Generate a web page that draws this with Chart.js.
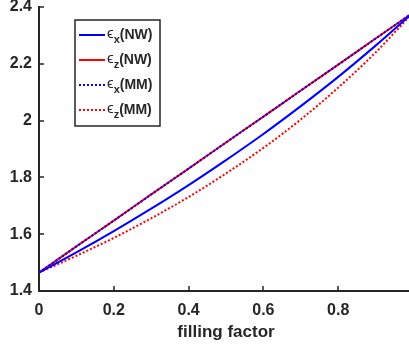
<!DOCTYPE html>
<html>
<head>
<meta charset="utf-8">
<script src="https://cdn.jsdelivr.net/npm/chart.js@4"></script>
<style>
  html, body { margin: 0; padding: 0; background: #fff; overflow: hidden; }
  #wrap { position: absolute; left: 0; top: 0; width: 430px; height: 346px; }
</style>
</head>
<body>
<div id="wrap"><canvas id="myChart" width="430" height="346"></canvas></div>
<script>
  // filling factor and permittivities
  const fill = [0, 0.1, 0.2, 0.3, 0.4, 0.5, 0.6, 0.7, 0.8, 0.9, 1.0]
  const epsXNW = [1.465, 1.536, 1.611, 1.690, 1.773, 1.861, 1.953, 2.051, 2.154, 2.264, 2.380]
  const epsZNW = [1.465, 1.557, 1.648, 1.740, 1.831, 1.923, 2.014, 2.106, 2.197, 2.289, 2.380]
  const epsXMM = [1.465, 1.557, 1.648, 1.740, 1.831, 1.923, 2.014, 2.106, 2.197, 2.289, 2.380]
  const epsZMM = [1.465, 1.524, 1.587, 1.656, 1.731, 1.814, 1.904, 2.004, 2.116, 2.240, 2.380]
  const labels = ['ϵ_x(NW)', 'ϵ_z(NW)', 'ϵ_x(MM)', 'ϵ_z(MM)']
  const xTicks = [0, 0.2, 0.4, 0.6, 0.8, 1]
  const yTicks = [1.4, 1.6, 1.8, 2, 2.2, 2.4]

  const FONT = '"Liberation Sans", Arial, sans-serif'
  const INK = '#262626'

  const pts = (ys) => fill.map((x, i) => ({ x: x, y: ys[i] }))

  // inward tick marks, matlab style
  const innerTicks = {
    id: 'innerTicks',
    afterDatasetsDraw(chart) {
      const { ctx, chartArea, scales } = chart
      ctx.save()
      ctx.strokeStyle = INK
      ctx.lineWidth = 1.5
      ctx.beginPath()
      xTicks.forEach(v => {
        const px = Math.round(scales.x.getPixelForValue(v))
        ctx.moveTo(px, chartArea.bottom)
        ctx.lineTo(px, chartArea.bottom - 5)
      })
      yTicks.forEach(v => {
        const py = Math.round(scales.y.getPixelForValue(v))
        ctx.moveTo(chartArea.left, py)
        ctx.lineTo(chartArea.left + 5, py)
      })
      ctx.stroke()
      ctx.restore()
    }
  }

  // legend box with subscripts
  const subLegend = {
    id: 'subLegend',
    afterDraw(chart) {
      const ctx = chart.ctx
      const bx = 75, by = 20, bw = 85, bh = 106
      ctx.save()
      ctx.fillStyle = '#fff'
      ctx.fillRect(bx, by, bw, bh)
      ctx.strokeStyle = INK
      ctx.lineWidth = 1.5
      ctx.strokeRect(bx, by, bw, bh)
      chart.data.datasets.forEach((ds, i) => {
        const y = 35 + i * 25
        ctx.strokeStyle = ds.borderColor
        ctx.lineWidth = 2
        ctx.setLineDash(ds.borderDash || [])
        ctx.beginPath()
        ctx.moveTo(79, y)
        ctx.lineTo(105, y)
        ctx.stroke()
        ctx.setLineDash([])
        const m = ds.label.match(/^(.)_(.)(.*)$/)
        ctx.fillStyle = INK
        ctx.textBaseline = 'alphabetic'
        let x = 107
        ctx.font = '15px ' + FONT
        ctx.fillText(m[1], x, y + 3)
        x += ctx.measureText(m[1]).width
        ctx.font = 'bold 11px ' + FONT
        ctx.fillText(m[2], x, y + 8)
        x += ctx.measureText(m[2]).width
        ctx.font = 'bold 14px ' + FONT
        ctx.fillText(m[3], x, y + 4)
      })
      ctx.restore()
    }
  }

  const ctx = document.getElementById('myChart')
  // eslint-disable-next-line no-unused-vars
  const myChart = new Chart(ctx, {
    type: 'line',
    data: {
      datasets: [
        { label: labels[0], data: pts(epsXNW), borderColor: '#0000ff', order: 0 },
        { label: labels[1], data: pts(epsZNW), borderColor: '#ff0000', order: 2 },
        { label: labels[2], data: pts(epsXMM), borderColor: '#0000ff', borderDash: [2, 2], order: 1 },
        { label: labels[3], data: pts(epsZMM), borderColor: '#ff0000', borderDash: [2, 2], order: 3 }
      ]
    },
    options: {
      responsive: false,
      animation: false,
      layout: { padding: { top: 7, right: 17, left: 0, bottom: 0 } },
      elements: {
        point: { radius: 0 },
        line: { borderWidth: 2, cubicInterpolationMode: 'monotone', fill: false }
      },
      plugins: {
        legend: { display: false },
        tooltip: { enabled: false }
      },
      scales: {
        x: {
          type: 'linear',
          min: 0,
          max: 1,
          afterBuildTicks: (s) => { s.ticks = xTicks.map(v => ({ value: v })) },
          afterFit: (s) => { s.height = 55 },
          grid: { display: true, drawOnChartArea: false, drawTicks: false },
          border: { display: true, color: INK, width: 2 },
          ticks: {
            padding: 10,
            color: INK,
            font: { family: FONT, size: 16, weight: 'bold' },
            maxRotation: 0,
            callback: (v) => String(+v.toFixed(1))
          },
          title: {
            display: true,
            text: 'filling factor',
            color: INK,
            padding: { top: 0, bottom: 3 },
            font: { family: FONT, size: 17, weight: 'bold' }
          }
        },
        y: {
          min: 1.4,
          max: 2.4,
          afterBuildTicks: (s) => { s.ticks = yTicks.map(v => ({ value: v })) },
          afterFit: (s) => { s.width = 39; s.paddingTop = 0; s.paddingBottom = 0 },
          grid: { display: true, drawOnChartArea: false, drawTicks: false },
          border: { display: true, color: INK, width: 2 },
          ticks: {
            padding: 7,
            color: INK,
            font: { family: FONT, size: 16, weight: 'bold' },
            callback: (v) => String(+v.toFixed(1))
          }
        }
      }
    },
    plugins: [innerTicks, subLegend]
  })
</script>
</body>
</html>
